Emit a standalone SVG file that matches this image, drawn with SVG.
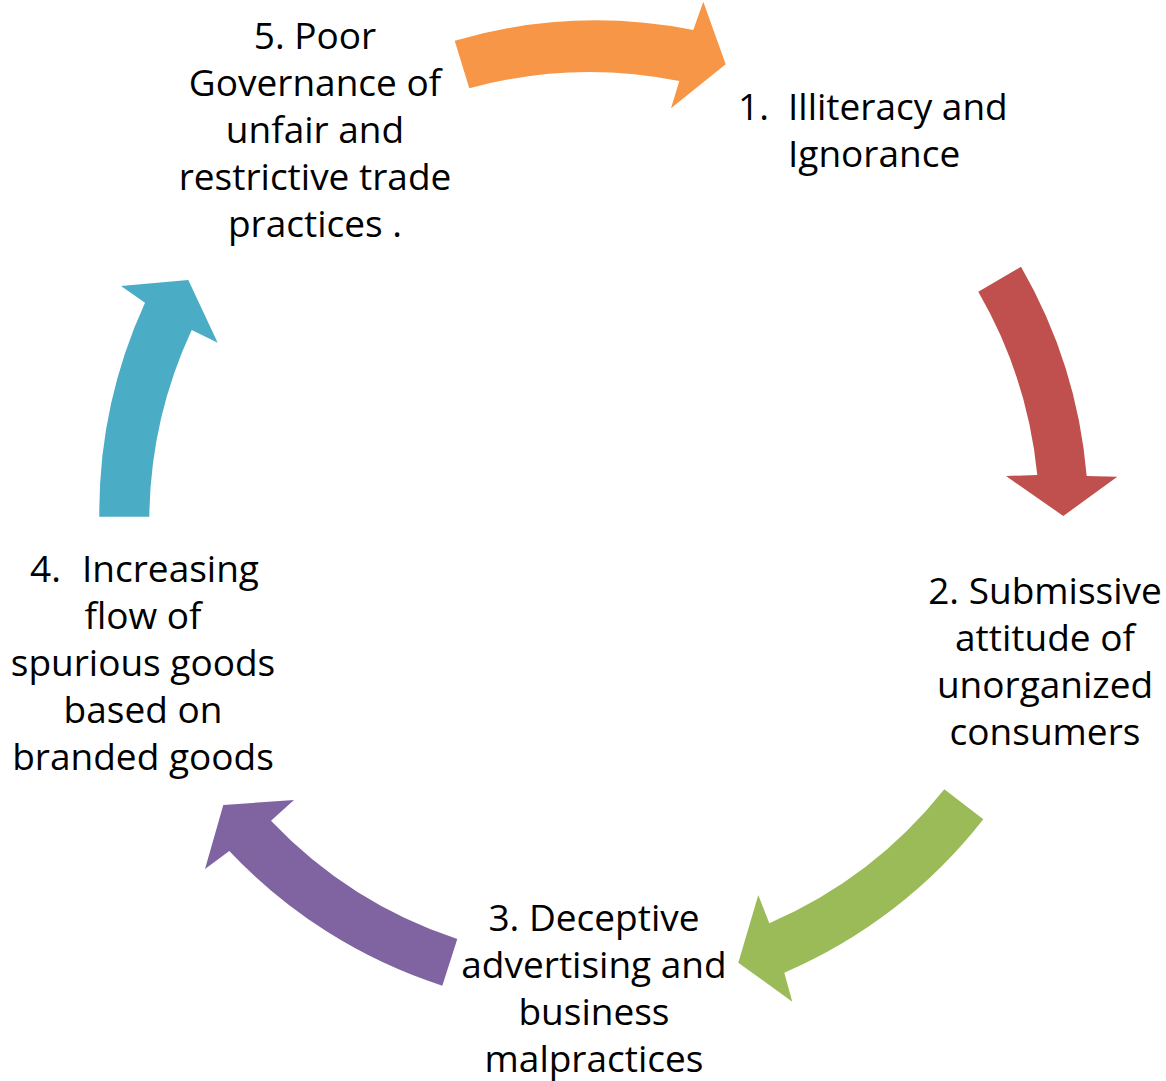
<svg xmlns="http://www.w3.org/2000/svg" width="1166" height="1081" viewBox="0 0 1166 1081">
  <style>
    .lbl { font-family: "Open Sans", "Noto Sans", sans-serif; font-size: 37px; fill: #000; }
    .mid { text-anchor: middle; }
  </style>
  <rect width="1166" height="1081" fill="#ffffff"/>

  <!-- curved block arrows forming the cycle -->
  <g id="connectors">
    <path id="arrow-5-1" fill="#F79646" d="M454.7,40.7 A505,505 0 0 1 693.3,30 L703.3,1.7 L725.7,64.3 L671,108.3 L679.3,81 A455,455 0 0 0 469.3,88.3 Z"/>
    <path id="arrow-1-2" fill="#C0504D" d="M1021,266.7 A505,505 0 0 1 1086.7,476 L1117.3,476.7 L1063.3,516 L1006,476 L1037.3,475 A455,455 0 0 0 978.3,291.7 Z"/>
    <path id="arrow-2-3" fill="#9BBB59" d="M983.3,819.3 A505,505 0 0 1 784.3,972.7 L792.3,1001.7 L738.3,962.7 L758.3,895 L769.3,923.3 A455,455 0 0 0 944.3,789.3 Z"/>
    <path id="arrow-3-4" fill="#8064A2" d="M442.3,985.7 A505,505 0 0 1 229.3,851 L205,869 L223.3,805 L294,800 L271,820.7 A455,455 0 0 0 457.3,939 Z"/>
    <path id="arrow-4-5" fill="#4BACC6" d="M99.3,516.7 A505,505 0 0 1 145,302.7 L121,286 L188.3,280 L217.7,342.7 L191.7,330 A455,455 0 0 0 149.3,516.7 Z"/>
  </g>

  <g id="node-1">
    <text class="lbl" x="738" y="120">1.</text>
    <text class="lbl" x="788" y="120">Illiteracy and</text>
    <text class="lbl" x="788" y="167">Ignorance</text>
  </g>

  <g id="node-2">
    <text class="lbl mid" x="1045" y="604">2. Submissive</text>
    <text class="lbl mid" x="1045" y="651">attitude of</text>
    <text class="lbl mid" x="1045" y="698">unorganized</text>
    <text class="lbl mid" x="1045" y="745">consumers</text>
  </g>

  <g id="node-3">
    <text class="lbl mid" x="594" y="931">3. Deceptive</text>
    <text class="lbl mid" x="594" y="978">advertising and</text>
    <text class="lbl mid" x="594" y="1025">business</text>
    <text class="lbl mid" x="594" y="1072">malpractices</text>
  </g>

  <g id="node-4">
    <text class="lbl" x="30" y="582">4.</text>
    <text class="lbl" x="82" y="582">Increasing</text>
    <text class="lbl mid" x="143" y="629">flow of</text>
    <text class="lbl mid" x="143" y="676">spurious goods</text>
    <text class="lbl mid" x="143" y="723">based on</text>
    <text class="lbl mid" x="143" y="770">branded goods</text>
  </g>

  <g id="node-5">
    <text class="lbl mid" x="315" y="49">5. Poor</text>
    <text class="lbl mid" x="315" y="96">Governance of</text>
    <text class="lbl mid" x="315" y="143">unfair and</text>
    <text class="lbl mid" x="315" y="190">restrictive trade</text>
    <text class="lbl mid" x="315" y="237">practices .</text>
  </g>
</svg>
